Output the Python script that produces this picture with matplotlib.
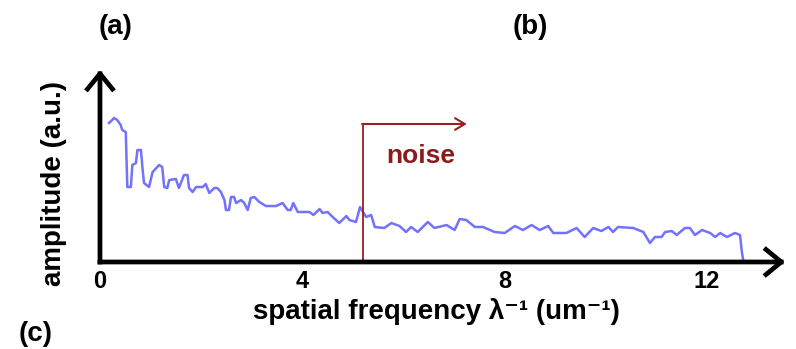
import numpy as np
import matplotlib
matplotlib.use("Agg")
import matplotlib.pyplot as plt

# spectrum (arbitrary units)
freq = [0.18, 0.28, 0.34, 0.41, 0.44, 0.51, 0.54, 0.61, 0.64, 0.71, 0.74, 0.81, 0.84, 0.87,
        0.97, 1.04, 1.17, 1.23, 1.27, 1.33, 1.37, 1.50, 1.56, 1.66, 1.73, 1.76, 1.83, 1.90,
        2.03, 2.09, 2.16, 2.26, 2.32, 2.39, 2.46, 2.49, 2.55, 2.59, 2.65, 2.69, 2.79, 2.85,
        2.92, 2.98, 3.05, 3.15, 3.28, 3.48, 3.61, 3.71, 3.77, 3.82, 3.91, 4.14, 4.22, 4.34,
        4.40, 4.50, 4.60, 4.73, 4.87, 4.93, 5.06, 5.14, 5.26, 5.36, 5.43, 5.62, 5.76, 5.92,
        6.05, 6.15, 6.28, 6.48, 6.61, 6.85, 7.01, 7.11, 7.24, 7.41, 7.57, 7.80, 8.00, 8.20,
        8.36, 8.53, 8.69, 8.86, 8.96, 9.22, 9.42, 9.58, 9.75, 9.91, 10.05, 10.14, 10.24,
        10.54, 10.74, 10.87, 10.97, 11.10, 11.17, 11.30, 11.40, 11.56, 11.66, 11.76, 11.90,
        12.06, 12.16, 12.26, 12.39, 12.55, 12.65, 12.69, 12.72]
amplitude = [1.39, 1.44, 1.42, 1.37, 1.32, 1.30, 0.75, 0.75, 0.97, 0.99, 1.12, 1.12, 0.94, 0.79,
             0.75, 0.90, 0.97, 0.95, 0.75, 0.74, 0.82, 0.83, 0.74, 0.87, 0.87, 0.74, 0.70, 0.75,
             0.75, 0.78, 0.69, 0.74, 0.74, 0.70, 0.62, 0.52, 0.52, 0.65, 0.65, 0.59, 0.62, 0.59,
             0.52, 0.64, 0.65, 0.60, 0.56, 0.56, 0.59, 0.52, 0.52, 0.59, 0.50, 0.50, 0.47, 0.53,
             0.49, 0.50, 0.45, 0.39, 0.46, 0.42, 0.40, 0.55, 0.45, 0.47, 0.35, 0.34, 0.39, 0.36,
             0.30, 0.35, 0.30, 0.40, 0.34, 0.37, 0.32, 0.43, 0.42, 0.35, 0.35, 0.30, 0.29, 0.36,
             0.32, 0.37, 0.32, 0.36, 0.29, 0.29, 0.34, 0.25, 0.34, 0.31, 0.35, 0.30, 0.35,
             0.34, 0.30, 0.19, 0.25, 0.25, 0.30, 0.31, 0.27, 0.34, 0.34, 0.27, 0.32,
             0.29, 0.25, 0.29, 0.25, 0.29, 0.27, 0.09, 0.0]

xticks = [0, 4, 8, 12]
noise_start = 5.19
noise_top = 1.38
noise_end = 7.25

plt.rcParams['font.family'] = ['Liberation Sans', 'DejaVu Sans']
plt.rcParams['font.weight'] = 'bold'

fig = plt.figure(figsize=(7.96, 3.49), dpi=100)
ax = fig.add_axes([0.1256, 0.2493, 0.8606, 0.5501])
ax.set_xlim(0, 13.54)
ax.set_ylim(0, 1.92)

ax.plot(freq, amplitude, color='#7272ff', lw=1.8, solid_joinstyle='round')

# noise marker
red = '#9a1f1f'
ax.plot([noise_start, noise_start], [0, noise_top], color=red, lw=1.3)
ax.annotate('', xy=(noise_end, noise_top), xytext=(noise_start - 0.01, noise_top),
            arrowprops=dict(arrowstyle='->,head_length=0.5,head_width=0.3', color=red, lw=1.5,
                            shrinkA=0, shrinkB=0, mutation_scale=14))
ax.text(6.34, 1.06, 'noise', color='#8b1a1a', fontsize=19, fontweight='bold',
        ha='center', va='center')

# axes as arrows
for spine in ax.spines.values():
    spine.set_visible(False)
for tip in [(1, 0), (0, 1)]:
    ax.annotate('', xy=tip, xytext=(0, 0), xycoords='axes fraction',
                arrowprops=dict(arrowstyle='->,head_length=0.55,head_width=0.45', color='black',
                                lw=3.4, shrinkA=0, shrinkB=0, mutation_scale=20,
                                capstyle='projecting'),
                annotation_clip=False)

ax.set_xticks(xticks)
ax.set_xticklabels([str(t) for t in xticks])
ax.set_yticks([])
ax.tick_params(axis='x', length=0, pad=6, labelsize=17)

ax.set_xlabel('spatial frequency λ⁻¹ (um⁻¹)', fontsize=20, fontweight='bold')
ax.xaxis.set_label_coords(0.4905, -0.26)
ax.xaxis.label.set_va('center')
ax.set_ylabel('amplitude (a.u.)', fontsize=20, fontweight='bold')
ax.yaxis.set_label_coords(-0.067, 0.411)
ax.yaxis.label.set_va('center')

fig.text(116 / 796, 1 - 27 / 349, '(a)', fontsize=20, fontweight='bold', ha='center', va='center')
fig.text(530 / 796, 1 - 27 / 349, '(b)', fontsize=20, fontweight='bold', ha='center', va='center')
fig.text(36 / 796, 1 - 334 / 349, '(c)', fontsize=20, fontweight='bold', ha='center', va='center')

fig.savefig('out.png', dpi=100)
